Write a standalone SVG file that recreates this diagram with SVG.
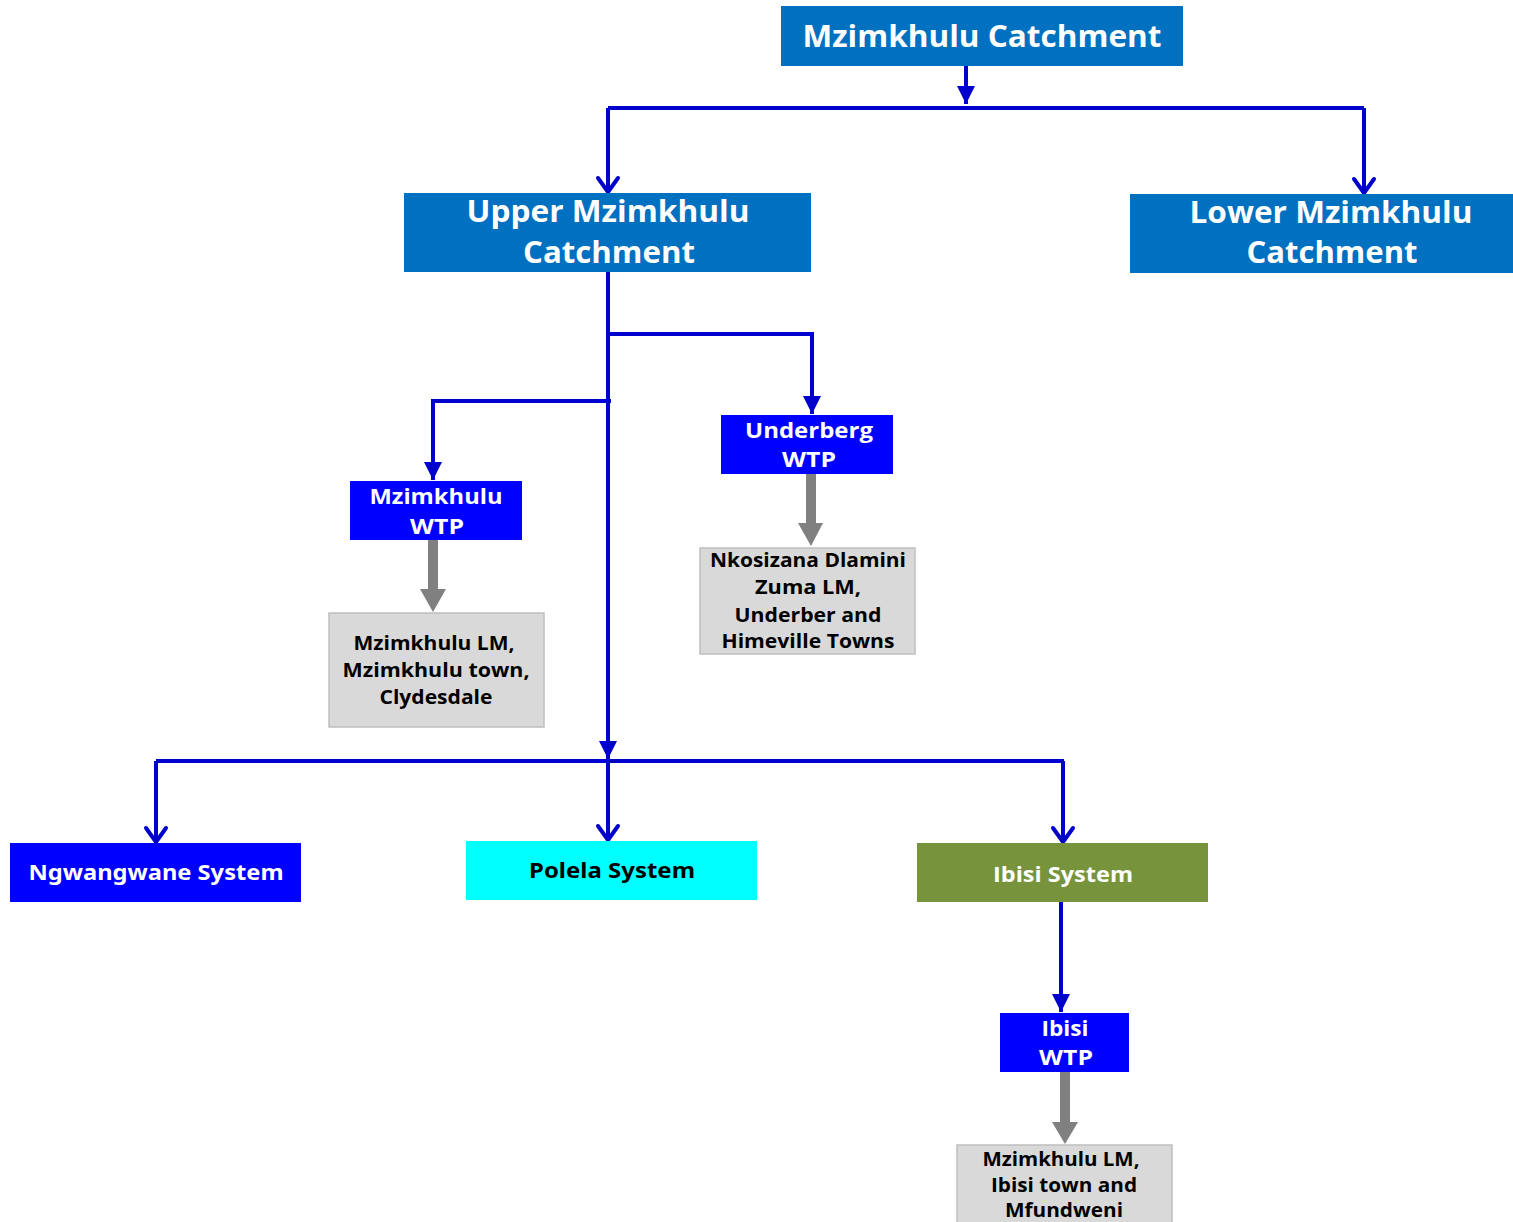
<svg xmlns="http://www.w3.org/2000/svg" width="1513" height="1222" viewBox="0 0 1513 1222">
<defs>
<style>
.t{font-family:"Open Sans","DejaVu Sans",sans-serif;font-weight:bold;text-anchor:middle}
.w{fill:#FFFFFF}
.k{fill:#000000}
.c{font-family:"Noto Sans","Open Sans",sans-serif;font-weight:bold;text-anchor:middle}
.conn{fill:none;stroke:#0000CC;stroke-width:4}
.gray{fill:#808080}
.gbox{fill:#D9D9D9;stroke:#BFBFBF;stroke-width:1.5}
</style>
<marker id="fa" viewBox="0 0 18 18" refX="18" refY="9" markerWidth="18" markerHeight="18" markerUnits="userSpaceOnUse" orient="auto">
<path d="M0,0 L18,9 L0,18 z" fill="#0000CC"/>
</marker>
<marker id="va" viewBox="0 0 16 22" refX="15" refY="11" markerWidth="16" markerHeight="22" markerUnits="userSpaceOnUse" orient="auto" overflow="visible">
<path d="M1,1 L15,11 L1,21" fill="none" stroke="#0000CC" stroke-width="4" stroke-linecap="round" stroke-linejoin="round"/>
</marker>
</defs>
<rect width="1513" height="1222" fill="#FFFFFF"/>

<g id="connectors">
<path class="conn" d="M966,66 V104" marker-end="url(#fa)"/>
<path class="conn" d="M608,108 H1364"/>
<path class="conn" d="M608,108 V192" marker-end="url(#va)"/>
<path class="conn" d="M1364,108 V193" marker-end="url(#va)"/>
<path class="conn" d="M608,272 V759" marker-end="url(#fa)"/>
<path class="conn" d="M608,334 H812 V414" marker-end="url(#fa)"/>
<path class="conn" d="M611,401 H433 V480" marker-end="url(#fa)"/>
<path class="conn" d="M156,761 H1064"/>
<path class="conn" d="M156,761 V842" marker-end="url(#va)"/>
<path class="conn" d="M608,761 V840" marker-end="url(#va)"/>
<path class="conn" d="M1063,761 V842" marker-end="url(#va)"/>
<path class="conn" d="M1061,902 V1012" marker-end="url(#fa)"/>
<path class="gray" d="M428,540 H438 V589 H446 L433,612 L420,589 H428 Z"/>
<path class="gray" d="M806,474 H816 V523 H823 L811,546 L798,523 H806 Z"/>
<path class="gray" d="M1060,1072 A5,5 0 0 1 1070,1072 V1122 H1078 L1065,1144 L1052,1122 H1060 Z"/>
</g>

<g id="mzimkhulu-catchment">
<rect x="781" y="6" width="402" height="60" fill="#0070C0"/>
<text class="t w" x="982" y="47" font-size="30" textLength="359" lengthAdjust="spacingAndGlyphs">Mzimkhulu Catchment</text>
</g>

<g id="upper-mzimkhulu">
<rect x="404" y="193" width="407" height="79" fill="#0070C0"/>
<text class="t w" x="608" y="222" font-size="30" textLength="283" lengthAdjust="spacingAndGlyphs">Upper Mzimkhulu</text>
<text class="t w" x="609" y="263" font-size="30" textLength="172" lengthAdjust="spacingAndGlyphs">Catchment</text>
</g>

<g id="lower-mzimkhulu">
<rect x="1130" y="194" width="383" height="79" fill="#0070C0"/>
<text class="t w" x="1331" y="223" font-size="30" textLength="283" lengthAdjust="spacingAndGlyphs">Lower Mzimkhulu</text>
<text class="t w" x="1332" y="263" font-size="30" textLength="171" lengthAdjust="spacingAndGlyphs">Catchment</text>
</g>

<g id="mzimkhulu-wtp">
<rect x="350" y="481" width="172" height="59" fill="#0000FF"/>
<text class="t w" x="436" y="504" font-size="22" textLength="133" lengthAdjust="spacingAndGlyphs">Mzimkhulu</text>
<text class="t w" x="437" y="534" font-size="22" textLength="54" lengthAdjust="spacingAndGlyphs">WTP</text>
</g>

<g id="mzimkhulu-lm">
<rect class="gbox" x="329" y="613" width="215" height="114"/>
<text class="t k" x="434" y="650" font-size="19" textLength="161" lengthAdjust="spacingAndGlyphs">Mzimkhulu LM,</text>
<text class="t k" x="436" y="677" font-size="19" textLength="187" lengthAdjust="spacingAndGlyphs">Mzimkhulu town,</text>
<text class="t k" x="436" y="704" font-size="19" textLength="113" lengthAdjust="spacingAndGlyphs">Clydesdale</text>
</g>

<g id="underberg-wtp">
<rect x="721" y="415" width="172" height="59" fill="#0000FF"/>
<text class="t w" x="809" y="438" font-size="22" textLength="128" lengthAdjust="spacingAndGlyphs">Underberg</text>
<text class="t w" x="809" y="467" font-size="22" textLength="54" lengthAdjust="spacingAndGlyphs">WTP</text>
</g>

<g id="nkosizana">
<rect class="gbox" x="700" y="548" width="215" height="106"/>
<text class="t k" x="808" y="567" font-size="19" textLength="196" lengthAdjust="spacingAndGlyphs">Nkosizana Dlamini</text>
<text class="t k" x="808" y="594" font-size="19" textLength="106" lengthAdjust="spacingAndGlyphs">Zuma LM,</text>
<text class="t k" x="808" y="622" font-size="19" textLength="147" lengthAdjust="spacingAndGlyphs">Underber and</text>
<text class="t k" x="808" y="648" font-size="19" textLength="173" lengthAdjust="spacingAndGlyphs">Himeville Towns</text>
</g>

<g id="ngwangwane">
<rect x="10" y="843" width="291" height="59" fill="#0000FF"/>
<text class="c w" x="156" y="880" font-size="22" textLength="255" lengthAdjust="spacingAndGlyphs">Ngwangwane System</text>
</g>

<g id="polela">
<rect x="466" y="841" width="291" height="59" fill="#00FFFF"/>
<text class="c k" x="612" y="878" font-size="22" textLength="166" lengthAdjust="spacingAndGlyphs">Polela System</text>
</g>

<g id="ibisi-system">
<rect x="917" y="843" width="291" height="59" fill="#77933C"/>
<text class="t w" x="1063" y="882" font-size="22" textLength="140" lengthAdjust="spacingAndGlyphs">Ibisi System</text>
</g>

<g id="ibisi-wtp">
<rect x="1000" y="1013" width="129" height="59" fill="#0000FF"/>
<text class="t w" x="1065" y="1036" font-size="22" textLength="47" lengthAdjust="spacingAndGlyphs">Ibisi</text>
<text class="t w" x="1066" y="1065" font-size="22" textLength="54" lengthAdjust="spacingAndGlyphs">WTP</text>
</g>

<g id="ibisi-lm">
<rect class="gbox" x="957" y="1145" width="215" height="90"/>
<text class="t k" x="1061" y="1166" font-size="19" textLength="157" lengthAdjust="spacingAndGlyphs">Mzimkhulu LM,</text>
<text class="t k" x="1064" y="1192" font-size="19" textLength="146" lengthAdjust="spacingAndGlyphs">Ibisi town and</text>
<text class="t k" x="1064" y="1217" font-size="19" textLength="118" lengthAdjust="spacingAndGlyphs">Mfundweni</text>
</g>
</svg>
